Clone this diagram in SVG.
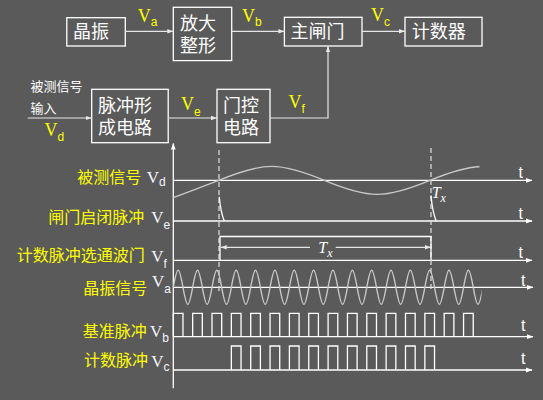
<svg xmlns="http://www.w3.org/2000/svg" width="543" height="400" viewBox="0 0 543 400">
<defs>
<style>
.box{fill:none;stroke:#ffffff;stroke-width:1.3}
.bt{font-family:"Noto Sans CJK SC","Noto Sans",sans-serif;font-size:18px;fill:#ffffff}
.wt{font-family:"Noto Sans CJK SC","Noto Sans",sans-serif;font-size:13px;fill:#ffffff}
.yt{font-family:"Noto Sans CJK SC","Noto Sans",sans-serif;font-size:16px;fill:#ffff00}
.vb{font-family:"Liberation Serif","Times New Roman",serif;font-size:18px;fill:#ffff00}
.vt{font-family:"Liberation Serif","Times New Roman",serif;font-size:17px;fill:#f4f4ff}
.sub{font-family:"Liberation Sans",Arial,sans-serif;font-size:12px}
.tt{font-family:"Liberation Sans",Arial,sans-serif;font-size:16px;fill:#ffffff}
.tx{font-family:"Liberation Serif","Times New Roman",serif;font-style:italic;fill:#ffffff;font-size:16px}
.con{fill:none;stroke:#e6e6e6;stroke-width:1.2}
.ax{fill:none;stroke:#ffffff;stroke-width:1.3}
.wave{fill:none;stroke:#c8c8c8;stroke-width:1.4}
.pul{fill:none;stroke:#ffffff;stroke-width:1.3}
.dash{fill:none;stroke:#d8d8d8;stroke-width:1.3;stroke-dasharray:5 3}
</style>
<marker id="ah" markerWidth="6" markerHeight="6" refX="6" refY="3" orient="auto-start-reverse" markerUnits="userSpaceOnUse"><path d="M0,0.8 L6,3 L0,5.2 z" fill="#e6e6e6"/></marker>
<marker id="axh" markerWidth="7" markerHeight="6" refX="6" refY="3" orient="auto" markerUnits="userSpaceOnUse"><path d="M0,0.6 L6.5,3 L0,5.4 z" fill="#ffffff"/></marker>
<clipPath id="cva"><rect x="170" y="250" width="311.5" height="70"/></clipPath>
<clipPath id="cvd"><rect x="170" y="150" width="309.5" height="60"/></clipPath>
</defs>
<rect x="0" y="0" width="543" height="400" fill="#5a5a5a"/>

<g id="node-jingzhen"><rect class="box" x="66.8" y="17.7" width="58.5" height="28.3"/><text class="bt" x="73" y="38">晶振</text></g>
<g id="node-fangda"><rect class="box" x="173.3" y="7.3" width="58.4" height="53.3"/><text class="bt"><tspan x="180" y="29.5">放大</tspan><tspan x="180" y="52">整形</tspan></text></g>
<g id="node-zhuzhamen"><rect class="box" x="284.4" y="17.3" width="77.6" height="28.7"/><text class="bt" x="290.6" y="38">主闸门</text></g>
<g id="node-jishuqi"><rect class="box" x="405" y="17.3" width="77" height="28.7"/><text class="bt" x="411.8" y="38">计数器</text></g>
<g id="node-maichong"><rect class="box" x="91.7" y="89.3" width="76.5" height="53.4"/><text class="bt"><tspan x="98" y="112">脉冲形</tspan><tspan x="98" y="134">成电路</tspan></text></g>
<g id="node-menkong"><rect class="box" x="217" y="89.3" width="53" height="53.4"/><text class="bt"><tspan x="223" y="112">门控</tspan><tspan x="223" y="134">电路</tspan></text></g>

<g id="connectors">
<line class="con" x1="125.3" y1="31.3" x2="173.3" y2="31.3" marker-end="url(#ah)"/>
<line class="con" x1="231.7" y1="31.3" x2="284.4" y2="31.3" marker-end="url(#ah)"/>
<line class="con" x1="362" y1="31.3" x2="405" y2="31.3" marker-end="url(#ah)"/>
<line class="con" x1="27.7" y1="118" x2="91.7" y2="118" marker-end="url(#ah)"/>
<line class="con" x1="168.2" y1="118" x2="217" y2="118" marker-end="url(#ah)"/>
<polyline class="con" points="270,118 328,118 328,46" marker-end="url(#ah)"/>
</g>

<g id="block-labels">
<text class="wt"><tspan x="30.4" y="90.5">被测信号</tspan><tspan x="30.4" y="113">输入</tspan></text>
<text class="vb" x="137.7" y="21.7">V<tspan class="sub" dy="4.3">a</tspan></text>
<text class="vb" x="242" y="21.7">V<tspan class="sub" dy="4.3">b</tspan></text>
<text class="vb" x="371" y="21.3">V<tspan class="sub" dy="4.2">c</tspan></text>
<text class="vb" x="181" y="110">V<tspan class="sub" dy="6">e</tspan></text>
<text class="vb" x="288.5" y="108">V<tspan class="sub" dy="4.5">f</tspan></text>
<text class="vb" x="44.5" y="136">V<tspan class="sub" dy="4.5">d</tspan></text>
</g>

<g id="timing">
<line class="ax" x1="173.3" y1="388.3" x2="173.3" y2="143.5" marker-end="url(#axh)"/>
<line class="ax" x1="173.3" y1="180.4" x2="532" y2="180.4" marker-end="url(#axh)"/>
<line class="ax" x1="173.3" y1="221" x2="532" y2="221" marker-end="url(#axh)"/>
<line class="ax" x1="173.3" y1="260.3" x2="532" y2="260.3" marker-end="url(#axh)"/>
<line class="ax" x1="173.3" y1="287.3" x2="533" y2="287.3" marker-end="url(#axh)"/>
<line class="ax" x1="173.3" y1="336.7" x2="533" y2="336.7" marker-end="url(#axh)"/>
<line class="ax" x1="173.3" y1="370" x2="532" y2="370" marker-end="url(#axh)"/>

<text class="tt" x="518.5" y="177.5">t</text>
<text class="tt" x="518.5" y="219.3">t</text>
<text class="tt" x="518.5" y="258.3">t</text>
<text class="tt" x="521" y="286">t</text>
<text class="tt" x="521" y="331">t</text>
<text class="tt" x="521" y="364.3">t</text>

<text class="yt" x="77.3" y="183">被测信号</text><text class="vt" x="146.7" y="182.7">V<tspan class="sub" dy="2.8">d</tspan></text>
<text class="yt" x="48.3" y="223">闸门启闭脉冲</text><text class="vt" x="151.2" y="223">V<tspan class="sub" dy="6">e</tspan></text>
<text class="yt" x="16.7" y="260.5">计数脉冲选通波门</text><text class="vt" x="151.2" y="261.7">V<tspan class="sub" dy="6.3">f</tspan></text>
<text class="yt" x="83.3" y="294">晶振信号</text><text class="vt" x="152" y="286.7">V<tspan class="sub" dy="6.6">a</tspan></text>
<text class="yt" x="82.7" y="336.5">基准脉冲</text><text class="vt" x="150" y="337.3">V<tspan class="sub" dy="4.4">b</tspan></text>
<text class="yt" x="84" y="366">计数脉冲</text><text class="vt" x="151.2" y="367.3">V<tspan class="sub" dy="3.2">c</tspan></text>

<path class="wave" clip-path="url(#cvd)" d="M173.3,197.7 C188,192 205,185.6 218.7,180.4 C263.54,161.73 279.51,161.73 324.35,180.4 S385.16,199.07 430,180.4 S490.81,161.73 535.65,180.4"/>

<line class="dash" x1="219" y1="150" x2="219" y2="292"/>
<line class="dash" x1="431" y1="148" x2="431" y2="291"/>

<path class="pul" d="M219.3,196.7 Q220.6,212 224.3,221"/>
<path class="pul" d="M431,195.5 Q432.3,211 436.3,221.5"/>
<text class="tx" x="431.7" y="198.3">T<tspan font-size="12" dy="3.4">x</tspan></text>

<path class="pul" d="M220,260.3 V236.5 H431 V260.3"/>
<line class="con" x1="310" y1="247.3" x2="220.7" y2="247.3" marker-end="url(#ah)"/>
<line class="con" x1="335.7" y1="247.3" x2="431" y2="247.3" marker-end="url(#ah)"/>
<text class="tx" x="318.3" y="253.3">T<tspan font-size="12" dy="4">x</tspan></text>

<path class="wave" clip-path="url(#cva)" d="M173.3,287.3 C177.41,264.63 178.87,264.63 182.98,287.3 S188.54,309.97 192.65,287.3 S198.22,264.63 202.33,287.3 S207.89,309.97 212,287.3 S217.57,264.63 221.68,287.3 S227.24,309.97 231.35,287.3 S236.92,264.63 241.03,287.3 S246.59,309.97 250.7,287.3 S256.27,264.63 260.38,287.3 S265.94,309.97 270.05,287.3 S275.62,264.63 279.73,287.3 S285.29,309.97 289.4,287.3 S294.97,264.63 299.08,287.3 S304.64,309.97 308.75,287.3 S314.32,264.63 318.43,287.3 S323.99,309.97 328.1,287.3 S333.67,264.63 337.78,287.3 S343.34,309.97 347.45,287.3 S353.02,264.63 357.13,287.3 S362.69,309.97 366.8,287.3 S372.37,264.63 376.48,287.3 S382.04,309.97 386.15,287.3 S391.72,264.63 395.83,287.3 S401.39,309.97 405.5,287.3 S411.07,264.63 415.18,287.3 S420.74,309.97 424.85,287.3 S430.42,264.63 434.53,287.3 S440.09,309.97 444.2,287.3 S449.77,264.63 453.88,287.3 S459.44,309.97 463.55,287.3 S469.12,264.63 473.23,287.3 S478.79,309.97 482.9,287.3"/>

<path class="pul" d="M173.3,336.7 V313.3 H182.98 V336.7 M192.65,336.7 V313.3 H202.33 V336.7 M212,336.7 V313.3 H221.68 V336.7 M231.35,336.7 V313.3 H241.03 V336.7 M250.7,336.7 V313.3 H260.38 V336.7 M270.05,336.7 V313.3 H279.73 V336.7 M289.4,336.7 V313.3 H299.08 V336.7 M308.75,336.7 V313.3 H318.43 V336.7 M328.1,336.7 V313.3 H337.78 V336.7 M347.45,336.7 V313.3 H357.13 V336.7 M366.8,336.7 V313.3 H376.48 V336.7 M386.15,336.7 V313.3 H395.83 V336.7 M405.5,336.7 V313.3 H415.18 V336.7 M424.85,336.7 V313.3 H434.53 V336.7 M444.2,336.7 V313.3 H453.88 V336.7 M463.55,336.7 V313.3 H473.23 V336.7"/>

<path class="pul" d="M231.35,370 V346 H241.03 V370 M250.7,370 V346 H260.38 V370 M270.05,370 V346 H279.73 V370 M289.4,370 V346 H299.08 V370 M308.75,370 V346 H318.43 V370 M328.1,370 V346 H337.78 V370 M347.45,370 V346 H357.13 V370 M366.8,370 V346 H376.48 V370 M386.15,370 V346 H395.83 V370 M405.5,370 V346 H415.18 V370 M424.85,370 V346 H434.53 V370"/>
</g>
</svg>
